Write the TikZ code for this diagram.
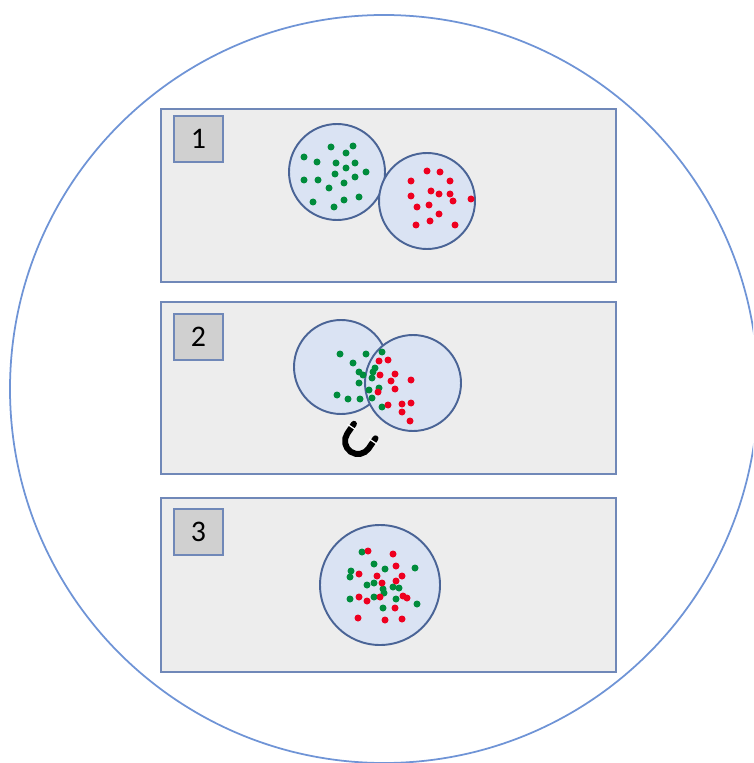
\documentclass[tikz,border=0pt]{standalone}
\usepackage{fontspec}
\newfontfamily\numfont{Carlito}
\definecolor{ringblue}{RGB}{111,148,214}
\definecolor{panelgray}{RGB}{237,237,237}
\definecolor{panelline}{RGB}{112,136,184}
\definecolor{tabgray}{RGB}{208,208,208}
\definecolor{cellfill}{RGB}{218,227,243}
\definecolor{cellline}{RGB}{74,100,150}
\definecolor{dotgreen}{RGB}{0,140,60}
\definecolor{dotred}{RGB}{238,0,32}

\begin{document}
\begin{tikzpicture}[x=0.02cm,y=-0.02cm,
  panel/.style={draw=panelline,fill=panelgray,line width=1.1pt},
  numbox/.style={draw=panelline,fill=tabgray,line width=1.1pt,minimum width=0.98cm,
    minimum height=0.92cm,inner sep=0pt,font=\numfont\fontsize{17}{20}\selectfont},
  cell/.style={draw=cellline,fill=cellfill,line width=1.1pt},
  gdot/.style={fill=dotgreen},
  rdot/.style={fill=dotred},
  magnet/.style={line width=3.4pt,line cap=round}]
 \useasboundingbox (0,0) rectangle (753,763);
 \clip (0,0) rectangle (753,763);
 \draw[ringblue,line width=1pt] (384,389) circle (374);

 % the three panels with their numbers
 \draw[panel] (161,109) rectangle (616,282);
 \draw[panel] (161,302) rectangle (616,474);
 \draw[panel] (161,498) rectangle (616,672);
 \node[numbox] (n1) at (198.5,139) {1};
 \node[numbox] (n2) at (198.5,337) {2};
 \node[numbox] (n3) at (198.5,532) {3};

 % 1: two separate cells
 \draw[cell] (337,172) circle (48);
 \draw[cell] (427,201) circle (48);
 \foreach \x/\y in {331/147,353/146,346/153,304/157,317/162,336/163,355/163,346/168,
   366/172,335/174,355/177,304/180,318/180,344/183,329/188,359/197,344/200,313/202,334/207}
   \fill[gdot] (\x,\y) circle (3.5);
 \foreach \x/\y in {427/171,440/172,411/181,450/181,431/191,439/194,450/194,411/196,
   453/201,471/199,429/205,417/207,439/214,430/221,416/225,455/225}
   \fill[rdot] (\x,\y) circle (3.5);

 % 2: cells fusing next to the magnet
 \draw[cell] (341,367) circle (47);
 \draw[cell] (413,383) circle (48);
 \foreach \x/\y in {340/354,366/354,382/352,353/363,375/368,359/372,363/375,373/372,
   372/378,359/383,379/388,369/390,337/395,348/399,360/399,372/398,382/407}
   \fill[gdot] (\x,\y) circle (3.5);
 \foreach \x/\y in {379/361,388/360,380/375,395/374,391/381,411/380,395/389,378/392,
   388/405,402/404,411/403,402/412,410/421}
   \fill[rdot] (\x,\y) circle (3.5);
 \begin{scope}[shift={(358,441)},rotate=-34]
  \draw[magnet] (-13,-12) -- (-13,0) arc[start angle=180,end angle=0,radius=13] -- (13,-12);
  \draw[white,line width=0.7pt] (-18,-8) -- (-8,-8) (8,-8) -- (18,-8);
 \end{scope}

 % 3: one fused cell
 \draw[cell] (380,585) circle (60);
 \foreach \x/\y in {362/552,374/564,385/569,415/568,351/571,350/577,367/585,374/583,
   393/587,399/588,383/589,384/593,350/599,374/597,396/599,417/604,383/608}
   \fill[gdot] (\x,\y) circle (3.5);
 \foreach \x/\y in {368/551,393/554,396/566,359/574,377/576,402/576,396/581,382/583,
   359/597,367/601,380/597,403/596,407/598,395/608,358/618,385/620,402/619}
   \fill[rdot] (\x,\y) circle (3.5);
\end{tikzpicture}
\end{document}
